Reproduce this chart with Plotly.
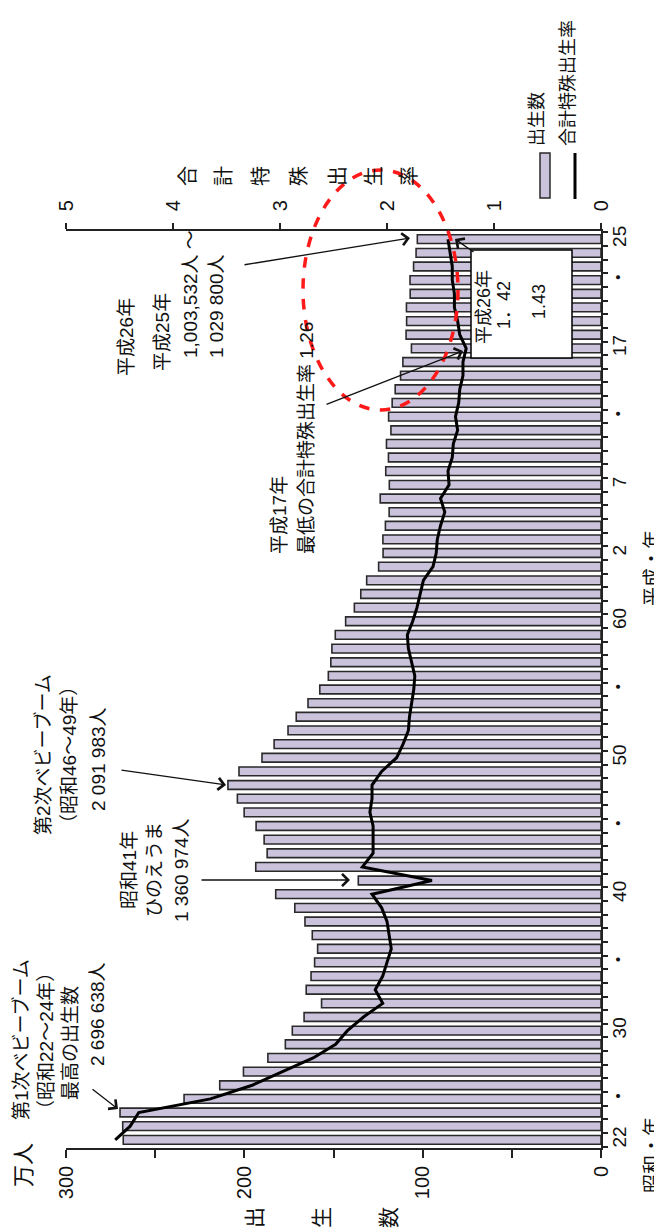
import plotly.graph_objects as go

# ---------------- data ----------------
years = list(range(1947, 2014))  # 昭和22年 … 平成25年
births_man = [
    267.9, 268.2, 269.7, 233.8, 213.8, 200.5, 186.8, 177.0, 173.1, 166.5,
    156.7, 165.3, 162.6, 160.6, 158.9, 161.9, 166.0, 171.7, 182.4, 136.1,
    193.6, 187.2, 188.9, 193.4, 200.1, 203.9, 209.2, 203.0, 190.1, 183.3,
    175.5, 170.9, 164.3, 157.7, 152.9, 151.5, 150.9, 149.0, 143.2, 138.3,
    134.7, 131.4, 124.7, 122.2, 122.3, 120.9, 118.8, 123.8, 118.7, 120.7,
    119.2, 120.3, 117.8, 119.1, 117.1, 115.4, 112.4, 111.1, 106.3, 109.3,
    109.0, 109.1, 107.0, 107.1, 105.1, 103.7, 103.0,
]
tfr = [
    4.54, 4.40, 4.32, 3.65, 3.26, 2.98, 2.69, 2.48, 2.37, 2.22,
    2.04, 2.11, 2.04, 2.00, 1.96, 1.98, 2.00, 2.05, 2.14, 1.58,
    2.23, 2.13, 2.13, 2.13, 2.16, 2.14, 2.14, 2.05, 1.91, 1.85,
    1.80, 1.79, 1.77, 1.75, 1.74, 1.77, 1.80, 1.81, 1.76, 1.72,
    1.69, 1.66, 1.57, 1.54, 1.53, 1.50, 1.46, 1.50, 1.42, 1.43,
    1.39, 1.38, 1.34, 1.36, 1.33, 1.32, 1.29, 1.29, 1.26, 1.32,
    1.34, 1.37, 1.37, 1.39, 1.39, 1.41, 1.43,
]
year_tick_vals = [1947, 1950, 1955, 1960, 1965, 1970, 1975, 1980, 1985,
                  1990, 1995, 2000, 2005, 2010, 2013]
year_tick_text = ["22", "・", "30", "・", "40", "・", "50", "・", "60",
                  "2", "7", "・", "17", "・", "25"]
birth_ticks = [0, 100, 200, 300]
rate_ticks = [0, 1, 2, 3, 4, 5]

# ---------------- layout helpers ----------------
W, H = 662, 1229
L, R, T, B = 58, 593, 223, 1140
FONT = "Liberation Sans, Noto Sans CJK JP, sans-serif"
BAR_FILL = "#cbc3dc"
INK = "#111111"
TXT_DX = -7  # rotated-text baseline correction


def px(x):
    return (x - L) / (R - L)


def py(y):
    return (B - y) / (B - T)


fig = go.Figure()
fig.add_trace(go.Bar(
    x=births_man, y=years, orientation="h", width=0.64,
    marker=dict(color=BAR_FILL, line=dict(color="#2a2a2a", width=1.6)),
    xaxis="x", yaxis="y", name="出生数",
))
fig.add_trace(go.Scatter(
    x=tfr, y=years, mode="lines", line=dict(color="black", width=3),
    xaxis="x2", yaxis="y", name="合計特殊出生率",
))

annotations = []


def text(t, x, y, size=19, xanchor="center", yanchor="middle", align="center"):
    annotations.append(dict(
        text=t, x=px(x + TXT_DX), y=py(y), xref="paper", yref="paper",
        showarrow=False, textangle=-90, xanchor=xanchor, yanchor=yanchor,
        align=align, font=dict(family=FONT, size=size, color=INK),
    ))


def arrow(hx, hy, tx, ty):
    annotations.append(dict(
        text="", x=px(hx), y=py(hy), xref="paper", yref="paper",
        showarrow=True, ax=tx - hx, ay=ty - hy, axref="pixel", ayref="pixel",
        arrowhead=4, arrowsize=1.8, arrowwidth=1.3, arrowcolor=INK,
        standoff=0, startstandoff=0,
    ))


# 第1次ベビーブーム
text("第1次ベビーブーム", 20, 1032)
text("（昭和22～24年）", 45, 1033)
text("最高の出生数", 69, 1035)
text("2 696 638人", 96, 1006)
arrow(110, 1101, 83, 1080)

# 第2次ベビーブーム
text("第2次ベビーブーム", 42, 747)
text("（昭和46～49年）", 68, 747)
text("2 091 983人", 97, 751)
arrow(218, 777, 112, 762)

# ひのえうま
text("昭和41年", 128, 862)
text("ひのえうま", 153, 862)
text("1 360 974人", 180, 862)
arrow(342, 872, 192, 872)

# 平成17年
text("平成17年", 278, 548, yanchor="bottom")
text("最低の合計特殊出生率 1.26", 305, 548, yanchor="bottom")
arrow(455, 343, 317, 397)

# 平成25/26年
text("平成26年", 126, 329)
text("平成25年", 161, 324)
text("1,003,532人 ～", 189, 352, yanchor="bottom")
text("1 029 800人", 215, 352, yanchor="bottom")
arrow(402, 230, 235, 257)

# box texts
text("平成26年", 483, 299, size=18)
text("1．42", 503, 297, size=18)
text("1.43", 538, 294, size=18)
arrow(447, 231, 467, 245)

# axis titles
text("万人", 22, 1157, size=22)
for ch, xx in zip("出生数", [253, 320, 387]):
    text(ch, xx, 1210, size=21)
text("昭和・年", 651, 1147, size=19)
text("平成・年", 651, 560, size=19)
for ch, xx in zip("合計特殊出生率", [187, 223, 260, 298, 337, 373, 408]):
    text(ch, xx, 168, size=20)

# legend
text("出生数", 536, 140, size=18, yanchor="bottom")
text("合計特殊出生率", 567, 140, size=18, yanchor="bottom")

shapes = [
    # white box
    dict(type="rect", xref="paper", yref="paper", x0=px(463), x1=px(564),
         y0=py(350), y1=py(242), fillcolor="white",
         line=dict(color="black", width=1.5), layer="above"),
    # red dashed ellipse
    dict(type="circle", xref="paper", yref="paper", x0=px(295), x1=px(450),
         y0=py(402), y1=py(162), line=dict(color="#ff1a1a", width=3.5, dash="dash"),
         layer="above"),
    # legend symbols
    dict(type="rect", xref="paper", yref="paper", x0=px(532), x1=px(542),
         y0=py(190), y1=py(145), fillcolor=BAR_FILL,
         line=dict(color="#2a2a2a", width=1.5), layer="above"),
    dict(type="line", xref="paper", yref="paper", x0=px(567), x1=px(567),
         y0=py(191), y1=py(145), line=dict(color="black", width=3), layer="above"),
]

axis_font = dict(family=FONT, size=20, color=INK)
fig.update_layout(
    width=W, height=H, autosize=False,
    margin=dict(l=L, r=W - R, t=T, b=H - B, pad=0),
    paper_bgcolor="white", plot_bgcolor="white",
    showlegend=False,
    font=dict(family=FONT, color=INK),
    xaxis=dict(
        range=[300, 0], side="bottom", showline=True, linecolor="#222",
        linewidth=1.5, ticks="outside", ticklen=8, tickwidth=1.5, tickcolor="#222",
        tickvals=birth_ticks, tickangle=-90, tickfont=axis_font,
        showgrid=False, zeroline=False,
        minor=dict(ticks="outside", ticklen=8, tickwidth=1.5, tickcolor="#222",
                   tickmode="linear", tick0=0, dtick=50, showgrid=False),
    ),
    xaxis2=dict(
        range=[5, 0], side="top", overlaying="x", anchor="y", showline=True,
        linecolor="#222", linewidth=1.5, ticks="outside", ticklen=6, tickwidth=1.5,
        tickcolor="#222", tickvals=rate_ticks, tickangle=-90, tickfont=axis_font,
        ticklabelstandoff=8, showgrid=False, zeroline=False,
    ),
    yaxis=dict(
        range=[1946.4, 2013.6], side="right", showline=True, linecolor="#222",
        linewidth=1.5, ticks="", tickvals=year_tick_vals, ticktext=year_tick_text,
        tickangle=-90, tickfont=dict(family=FONT, size=19, color=INK),
        showgrid=False, zeroline=False,
        minor=dict(ticks="outside", ticklen=5, tickwidth=1.5, tickcolor="#222",
                   tickmode="linear", tick0=1946.5, dtick=1, showgrid=False),
    ),
    annotations=annotations,
    shapes=shapes,
)

fig.write_html("out.html")
